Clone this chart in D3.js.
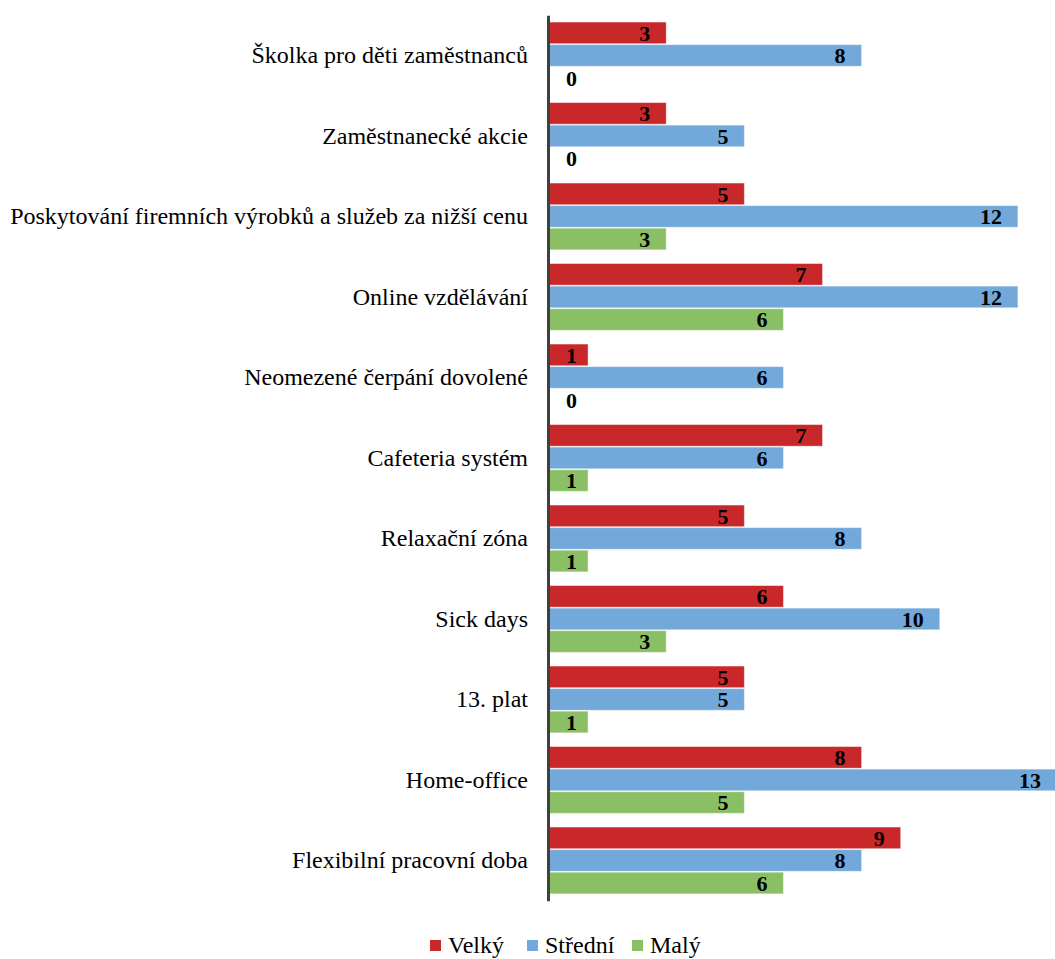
<!DOCTYPE html>
<html><head><meta charset="utf-8">
<script src="https://cdn.jsdelivr.net/npm/d3@7"></script>
<style>body{margin:0;background:#fff}svg{display:block}</style>
</head><body>
<svg id="c" width="1055" height="959"></svg>
<script>
const categories = ["Školka pro děti zaměstnanců","Zaměstnanecké akcie","Poskytování firemních výrobků a služeb za nižší cenu","Online vzdělávání","Neomezené čerpání dovolené","Cafeteria systém","Relaxační zóna","Sick days","13. plat","Home-office","Flexibilní pracovní doba"];
const seriesNames = ["Velký","Střední","Malý"];
const velky   = [3,3,5,7,1,7,5,6,5,8,9];
const stredni = [8,5,12,12,6,6,8,10,5,13,8];
const maly    = [0,0,3,6,0,1,1,3,1,5,6];
const colors = ["#C9282A","#72A8DA","#8BBF66"];
const seriesVals = [velky, stredni, maly];

const svg = d3.select("#c");
const font = '"Liberation Serif", "Times New Roman", serif';
const x = d3.scaleLinear().domain([0,13]).range([549,1057]);
const y = d3.scaleBand().domain(categories).range([15.2,900.7]).paddingInner(0.17).paddingOuter(0.085);
const ys = d3.scaleBand().domain(seriesNames).range([0,y.bandwidth()]).paddingInner(0.04);

const g = svg.append("g");
categories.forEach((c,i)=>{
  seriesNames.forEach((s,j)=>{
    const v = seriesVals[j][i];
    const yy = y(c)+ys(s);
    if (v>0) g.append("rect").attr("x",x(0)).attr("y",yy).attr("width",x(v)-x(0)).attr("height",ys.bandwidth())
      .attr("fill",colors[j]).attr("stroke","rgba(255,255,255,0.45)").attr("stroke-width",1);
    g.append("text").attr("x",Math.max(x(v)-16,x(0)+28)).attr("y",yy+ys.bandwidth()/2).attr("dy","0.36em")
      .attr("text-anchor","end").style("font-family",font).attr("font-weight","bold").attr("font-size",22)
      .attr("fill","#000").text(v);
  });
});

// axis
const axis = svg.append("g").attr("transform",`translate(${x(0)-1},0)`)
  .call(d3.axisLeft(y).tickSize(0).tickPadding(20));
axis.attr("font-family",null);
axis.select(".domain").attr("stroke","#404040").attr("stroke-width",3);
axis.selectAll(".tick text").style("font-family",font).attr("font-size",24).attr("fill","#000")
  .attr("dy", (d)=> (ys("Střední")+ys.bandwidth()/2 - y.bandwidth()/2 + 8)+"px");

// legend
const leg = svg.append("g").attr("transform","translate(430,945)");
const lx = [0,97,202];
seriesNames.forEach((s,j)=>{
  leg.append("rect").attr("x",lx[j]).attr("y",-5).attr("width",11).attr("height",11).attr("fill",colors[j]);
  leg.append("text").attr("x",lx[j]+18).attr("y",0).attr("dy","0.35em").style("font-family",font)
    .attr("font-size",24).attr("fill","#000").text(s);
});
</script>
</body></html>
